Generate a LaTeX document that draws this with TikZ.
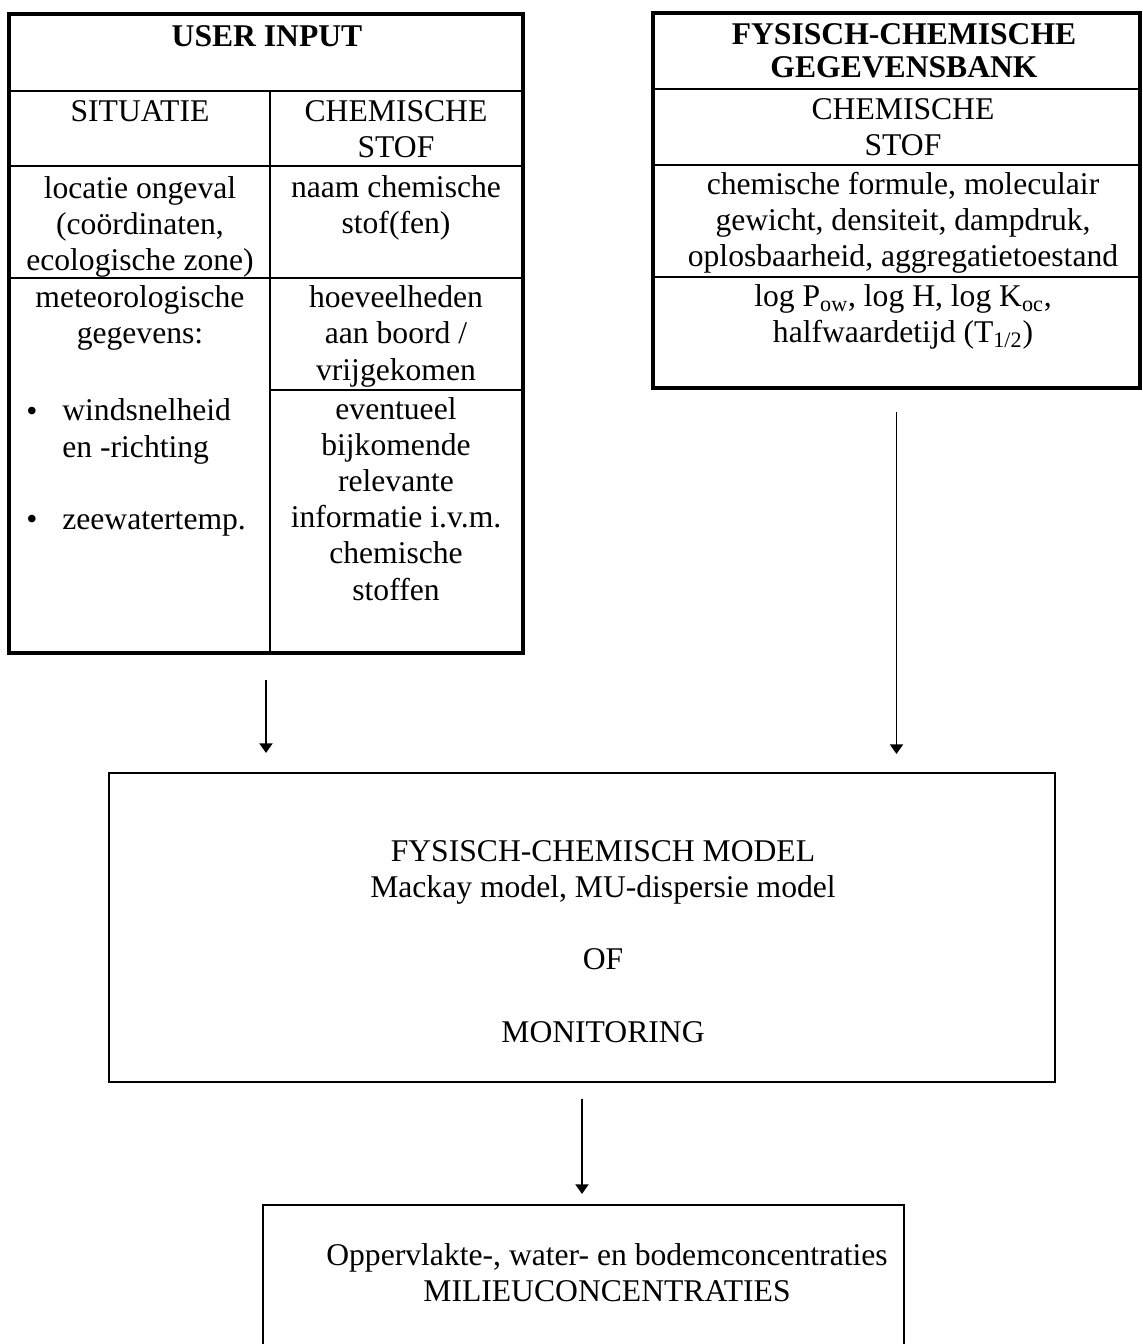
\documentclass[tikz,border=0pt]{standalone}
\usepackage{fontspec}
\setmainfont{Liberation Serif}
\newcommand{\BoxFont}{\fontsize{18}{20.5}\selectfont}
\usetikzlibrary{arrows.meta,fit}

\begin{document}
\begin{tikzpicture}[
        x=0.02cm, y=-0.02cm,
        frame/.style={draw, line width=2.2pt, inner sep=0pt},
        panel/.style={draw, line width=1.2pt, inner sep=0pt},
        rule/.style={line width=1.1pt},
        cell/.style={font=\BoxFont, anchor=base, align=center, inner sep=0pt},
        head/.style={cell, font=\BoxFont\bfseries},
        item/.style={font=\BoxFont, anchor=base west, align=left, inner sep=0pt},
        flow/.style={-{Triangle[length=5.5pt, width=7.5pt]}, line width=0.9pt},
    ]
    \useasboundingbox (0,0) rectangle (1142,1344);

    % User input table (text placed by the baseline of its last line)
    \node[frame, fit={(9,14) (523,653)}] (userin) {};
    \foreach \y in {91,166,278}
    \draw[rule] (9,\y) -- (523,\y);
    \draw[rule] (270,91) -- (270,653);
    \draw[rule] (270,390) -- (523,390);

    \node[head] (uihead) at (267,47) {USER INPUT};
    \node[cell] (situ)  at (140,122) {SITUATIE};
    \node[cell] (chemL) at (396,158) {CHEMISCHE\\STOF};
    \node[cell] (loc)   at (140,271) {locatie ongeval\\(coördinaten,\\ecologische zone)};
    \node[cell] (naam)  at (396,234) {naam chemische\\stof(fen)};
    \node[cell] (meteo) at (140,344) {meteorologische\\gegevens:};
    \node[cell] (hoev)  at (396,380) {hoeveelheden\\aan boord /\\vrijgekomen};
    \node[cell] (bulA)  at (32,421) {\textbullet};
    \node[item] (wind)  at (62,457) {windsnelheid\\en -richting};
    \node[cell] (bulB)  at (32,529) {\textbullet};
    \node[item] (zee)   at (62,529) {zeewatertemp.};
    \node[cell] (extra) at (396,600) {eventueel\\bijkomende\\relevante\\informatie i.v.m.\\chemische\\stoffen};

    % Database table
    \node[frame, fit={(653,13) (1140,388)}] (fysdb) {};
    \foreach \y in {89,165,277}
    \draw[rule] (653,\y) -- (1140,\y);

    \node[head] (dbhead) at (904,78) {FYSISCH-CHEMISCHE\\[-1.7pt]GEGEVENSBANK};
    \node[cell] (chemR)  at (903,156) {CHEMISCHE\\STOF};
    \node[cell] (props)  at (903,267) {chemische formule, moleculair\\gewicht, densiteit, dampdruk,\\oplosbaarheid, aggregatietoestand};
    \node[cell] (coef)   at (903,343) {log P\textsubscript{ow}, log H, log K\textsubscript{oc},\\halfwaardetijd (T\textsubscript{1/2})};

    % Model
    \node[panel, fit={(109,773) (1055,1082)}] (model) {};
    \node[cell] (modeltxt) at (603,1042) {FYSISCH-CHEMISCH MODEL\\Mackay model, MU-dispersie model\\[20.5pt]OF\\[20.5pt]MONITORING};

    % Result
    \node[panel, fit={(263,1205) (904,1420)}] (result) {};
    \node[cell] (restxt) at (607,1301) {Oppervlakte-, water- en bodemconcentraties\\MILIEUCONCENTRATIES};

    \draw[flow, shorten <=0.5cm, shorten >=0.38cm] (userin.south) -- (userin.south |- model.north);
    \draw[flow, shorten <=0.44cm, shorten >=0.36cm] (fysdb.south) -- (fysdb.south |- model.north);
    \draw[flow, shorten <=0.32cm, shorten >=0.2cm] (model.south) -- (model.south |- result.north);
\end{tikzpicture}
\end{document}
